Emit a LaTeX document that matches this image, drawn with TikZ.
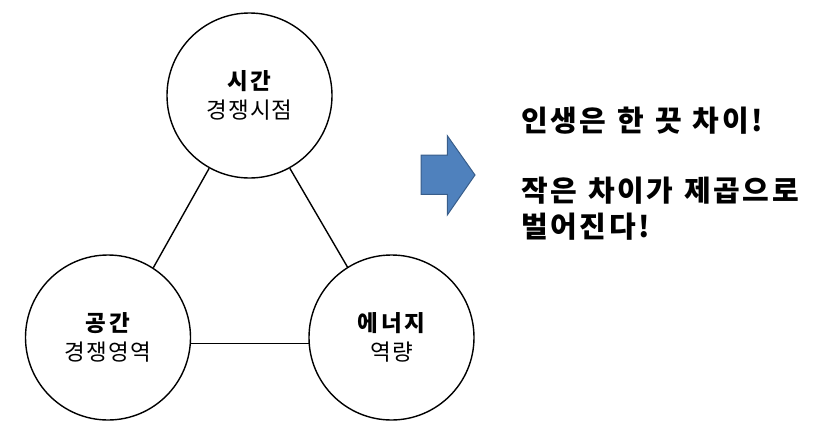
\documentclass[tikz,border=0pt]{standalone}
\usepackage{fontspec}
\newfontfamily\krc{Noto Sans CJK KR}[LetterSpace=5,BoldFeatures={LetterSpace=12}]
\newfontfamily\krm{Noto Sans CJK KR}[LetterSpace=9]
\newcommand\widesp{\spaceskip=11pt plus 0pt minus 0pt\relax}
\begin{document}
\begin{tikzpicture}[x=1pt,y=-1pt,
  bub/.style={circle,draw=black,line width=1.4pt,minimum size=165pt,inner sep=0pt,align=center,
    font=\krc\fontsize{22.5}{29}\selectfont},
  link/.style={draw=black,line width=1.4pt},
  msg/.style={anchor=west,inner sep=0pt,align=left,
    font=\krm\bfseries\fontsize{29}{35.5}\selectfont}]
\useasboundingbox (0,0) rectangle (815,432);
\node[bub] (T) at (249.5,95.5) {{\bfseries 시간}\\경쟁시점};
\node[bub] (L) at (108,337.5) {{\bfseries 공간}\\경쟁영역};
\node[bub] (R) at (391.5,337.5) {{\bfseries 에너지}\\역량};
\draw[link] (T.241) -- (L.57);
\draw[link] (T.299) -- (R.122);
\draw[link] (L.-4) -- (R.184);
\draw[fill={rgb,255:red,79;green,129;blue,189},draw={rgb,255:red,56;green,93;blue,138},line width=1pt]
  (421,155) -- (447.3,155) -- (447.3,135.7) -- (475,175) -- (447.3,215) -- (447.3,194.3) -- (421,194.3) -- cycle;
\node[msg] (t1) at (521,121) {\widesp 인생은 한 끗 차이!};
\node[msg] (t2) at (521,208.75) {\widesp 작은 차이가 제곱으로\\\widesp 벌어진다!};
\end{tikzpicture}
\end{document}
